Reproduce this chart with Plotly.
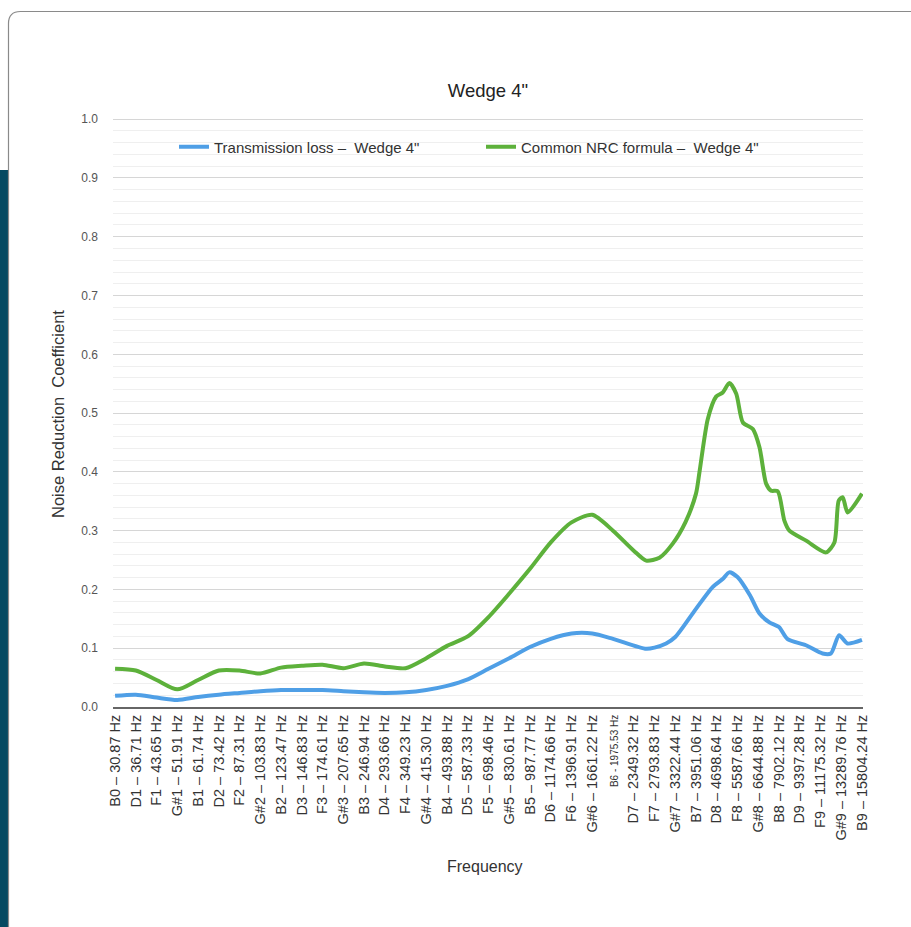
import plotly.graph_objects as go

# ---- data ----
categories = [
    "B0 – 30.87 Hz", "D1 – 36.71 Hz", "F1 – 43.65 Hz", "G#1 – 51.91 Hz",
    "B1 – 61.74 Hz", "D2 – 73.42 Hz", "F2 – 87.31 Hz", "G#2 – 103.83 Hz",
    "B2 – 123.47 Hz", "D3 – 146.83 Hz", "F3 – 174.61 Hz", "G#3 – 207.65 Hz",
    "B3 – 246.94 Hz", "D4 – 293.66 Hz", "F4 – 349.23 Hz", "G#4 – 415.30 Hz",
    "B4 – 493.88 Hz", "D5 – 587.33 Hz", "F5 – 698.46 Hz", "G#5 – 830.61 Hz",
    "B5 – 987.77 Hz", "D6 – 1174.66 Hz", "F6 – 1396.91 Hz", "G#6 – 1661.22 Hz",
    "B6 - 1975.53 Hz", "D7 – 2349.32 Hz", "F7 – 2793.83 Hz", "G#7 – 3322.44 Hz",
    "B7 – 3951.06 Hz", "D8 – 4698.64 Hz", "F8 – 5587.66 Hz", "G#8 – 6644.88 Hz",
    "B8 – 7902.12 Hz", "D9 – 9397.28 Hz", "F9 – 11175.32 Hz", "G#9 – 13289.76 Hz",
    "B9 – 15804.24 Hz",
]
small_label = "B6 - 1975.53 Hz"

# position along the frequency axis (category index, fractional = between labels)
tl_pos = [0, 1, 2, 3, 4, 5, 6, 7, 8, 9, 10, 11, 12, 13, 14, 15, 16, 17, 18, 19,
          20, 21, 22, 23, 24, 25.6, 26.0, 26.56, 27.0, 28.0, 28.8, 29.3, 29.6,
          30.0, 30.6, 31.06, 31.54, 32.0, 32.4, 33.3, 34.1, 34.5, 34.9, 35.3, 36.0]
tl_val = [0.019, 0.021, 0.016, 0.012, 0.017, 0.021, 0.024, 0.027, 0.029, 0.029,
          0.029, 0.027, 0.025, 0.024, 0.025, 0.029, 0.036, 0.047, 0.065, 0.083,
          0.102, 0.116, 0.125, 0.125, 0.116,
          0.099, 0.101, 0.108, 0.119, 0.167, 0.204, 0.218, 0.229,
          0.221, 0.190, 0.159, 0.144, 0.136, 0.116, 0.105, 0.091, 0.091, 0.122,
          0.108, 0.114]

nrc_pos = [0, 1, 2, 3, 4, 5, 6, 7, 8, 9, 10, 11, 12, 13, 14, 15, 16, 17, 18, 19,
           20, 21, 22, 23, 24, 25, 25.6, 26.24, 26.88, 27.5, 28.0, 28.17, 28.57,
           28.97, 29.29, 29.61, 29.94, 30.26, 30.74, 31.06, 31.38, 31.62, 31.94,
           32.26, 32.5, 33.31, 34.27, 34.67, 34.88, 35.07, 35.31, 36.0]
nrc_val = [0.065, 0.062, 0.046, 0.030, 0.046, 0.062, 0.062, 0.057, 0.067, 0.070,
           0.072, 0.066, 0.074, 0.069, 0.066, 0.083, 0.104, 0.120, 0.153, 0.193,
           0.235, 0.280, 0.314, 0.327, 0.300, 0.266,
           0.249, 0.254, 0.278, 0.315, 0.363, 0.400, 0.490, 0.528, 0.535, 0.551,
           0.533, 0.484, 0.473, 0.442, 0.380, 0.368, 0.367, 0.317, 0.300, 0.283,
           0.263, 0.280, 0.351, 0.357, 0.331, 0.363]

y_ticks = [0.0, 0.1, 0.2, 0.3, 0.4, 0.5, 0.6, 0.7, 0.8, 0.9, 1.0]

# ---- layout constants ----
W, H = 911, 927
L, R, T, B = 113, 48, 118, 220
PW, PH = W - L - R, H - T - B
def px(x):  # pixel -> paper x
    return (x - L) / PW
def py(y):  # pixel -> paper y
    return (H - B - y) / PH

FONT = "Liberation Sans, Arial, Helvetica, sans-serif"
BLUE = "#4f9fe6"
GREEN = "#5db13b"

ticktext = [
    f'<span style="font-size:10px">{c}</span>' if c == small_label else c
    for c in categories
]

fig = go.Figure()
fig.add_trace(go.Scatter(
    x=tl_pos, y=tl_val, mode="lines", name="Transmission loss –  Wedge 4\"",
    line=dict(color=BLUE, width=4, shape="spline", smoothing=0.7),
))
fig.add_trace(go.Scatter(
    x=nrc_pos, y=nrc_val, mode="lines", name="Common NRC formula –  Wedge 4\"",
    line=dict(color=GREEN, width=4, shape="spline", smoothing=0.7),
))

# card outline and dark side strip
r = 12
fig.add_shape(type="rect", xref="paper", yref="paper",
              x0=px(-5), x1=px(8), y0=py(H + 5), y1=py(170),
              fillcolor="#064a62", line=dict(width=0), layer="below")
fig.add_shape(type="path", xref="paper", yref="paper",
              path=(f"M {px(8.5)},{py(H + 5)} L {px(8.5)},{py(11.5 + r)} "
                    f"Q {px(8.5)},{py(11.5)} {px(8.5 + r)},{py(11.5)} "
                    f"L {px(W + 5)},{py(11.5)}"),
              line=dict(color="#8a8a8a", width=1.2), layer="below")

fig.update_layout(
    width=W, height=H,
    margin=dict(l=L, r=R, t=T, b=B, autoexpand=False),
    paper_bgcolor="white", plot_bgcolor="white",
    font=dict(family=FONT, color="#333333"),
    showlegend=True,
    legend=dict(orientation="h", x=px(174), xanchor="left", y=py(147), yanchor="middle",
                font=dict(size=15, color="#333333"), bgcolor="rgba(0,0,0,0)",
                entrywidth=262, entrywidthmode="pixels", itemwidth=30),
    title=dict(text="Wedge 4\"", x=px(488), xref="paper", xanchor="center",
               y=1 - 91 / H, yanchor="middle",
               font=dict(size=18.5, color="#222222", family=FONT)),
    xaxis=dict(
        range=[-0.1, 36.05], tickmode="array", tickvals=list(range(len(categories))),
        ticktext=ticktext, tickangle=-90, showgrid=False, zeroline=False,
        showline=True, linecolor="#666666", linewidth=2, ticks="",
        tickfont=dict(size=14.5, color="#333333", family=FONT),
    ),
    yaxis=dict(
        range=[0, 1.002], tickmode="array", tickvals=y_ticks,
        ticktext=[f"{v:.1f}" for v in y_ticks],
        showgrid=True, gridcolor="#d6d6d6", gridwidth=1, zeroline=False,
        showline=False, ticks="", ticklabelstandoff=14,
        tickfont=dict(size=12, color="#555555", family=FONT),
        minor=dict(dtick=0.02, showgrid=True, gridcolor="#efefef", gridwidth=1),
    ),
    annotations=[
        dict(text="Frequency", xref="paper", yref="paper", x=px(485), y=py(867),
             xanchor="center", yanchor="middle",
             showarrow=False, font=dict(size=16, color="#333333", family=FONT)),
        dict(text="Noise Reduction  Coefficient", xref="paper", yref="paper",
             x=px(58), y=py(414), xanchor="center", yanchor="middle",
             textangle=-90, showarrow=False,
             font=dict(size=16.5, color="#333333", family=FONT)),
    ],
)

fig.write_html("out.html", config={"displayModeBar": False},
               post_script="document.body.style.margin='0px';")
